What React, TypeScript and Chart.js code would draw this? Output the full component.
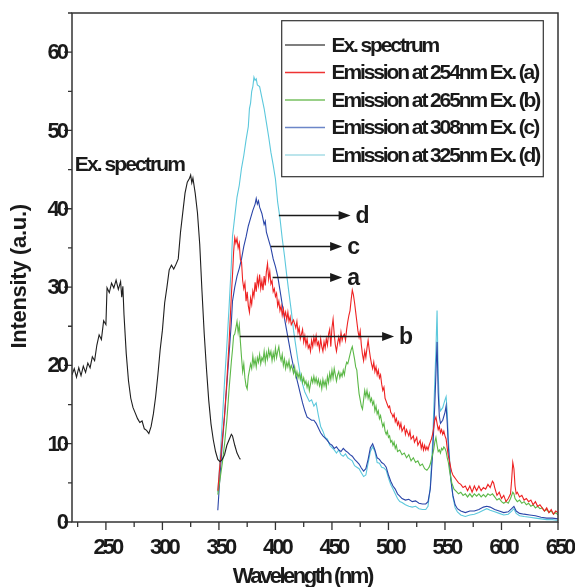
import React, { useEffect, useRef } from 'react';
import { Chart, registerables } from 'chart.js';

Chart.register(...registerables);

// ---------- axes ----------
const xMin = 220;
const xMax = 650;
const yMin = 0;
const yMax = 65;
const xMajorTicks = [250, 300, 350, 400, 450, 500, 550, 600, 650];
const xMinorTicks = [225, 275, 325, 375, 425, 475, 525, 575, 625];
const yMajorTicks = [0, 10, 20, 30, 40, 50, 60];
const yMinorTicks = [5, 15, 25, 35, 45, 55, 65];
const xTitle = 'Wavelength (nm)';
const yTitle = 'Intensity (a.u.)';

// ---------- series ----------
const seriesNames = [
  'Ex. spectrum',
  'Emission at 254nm Ex. (a)',
  'Emission at 265nm Ex. (b)',
  'Emission at 308nm Ex. (c)',
  'Emission at 325nm Ex. (d)',
];
const seriesColors = ['#1e1e1e', '#ee2222', '#5cb848', '#2a45a8', '#5cc8dc'];
const legendColors = ['#555555', '#ee3333', '#77c060', '#6c86c8', '#a6dde6'];

const exSpectrum: [number, number][] = [
  [220, 18.8], [222, 19.6], [224, 18.5], [226, 19.7], [228, 18.7], [230, 19.9], [232, 19.1], [234, 20.3],
  [236, 19.7], [238, 21.1], [240, 20.6], [242, 22.6], [244, 23.9], [246, 23.3], [248, 25.7], [250, 25.2],
  [251, 29.9], [253, 29.3], [255, 30.5], [257, 29.9], [259, 30.9], [261, 29.7], [263, 30.7], [264, 28.7],
  [265, 30.1], [266, 26.5], [268, 21.5], [270, 18.0], [272, 15.8], [274, 14.6], [276, 13.9], [278, 13.2],
  [280, 12.7], [282, 12.9], [284, 11.9], [286, 11.7], [288, 11.3], [290, 12.2], [292, 13.8], [294, 16.0],
  [296, 18.8], [298, 22.0], [300, 24.5], [302, 28.0], [304, 30.0], [306, 32.2], [308, 32.8], [310, 32.3],
  [312, 32.9], [314, 33.6], [316, 37.0], [318, 39.5], [320, 42.0], [322, 43.4], [324, 43.9], [325, 44.3],
  [326, 43.3], [327, 43.9], [329, 42.0], [331, 39.5], [333, 35.5], [335, 29.5], [337, 24.0], [339, 19.5],
  [341, 15.5], [343, 12.5], [345, 10.5], [347, 9.0], [349, 8.0], [351, 7.7], [353, 8.0], [355, 8.6],
  [357, 9.8], [359, 10.5], [361, 11.2], [362, 11.0], [364, 9.8], [366, 8.8], [368, 8.2], [369, 8.0],
];

const emission254: [number, number][] = [
  [349, 4.0], [351, 7.5], [353, 10.5], [355, 13.8], [357, 18.0], [359, 23.0], [361, 29.0], [362, 31.5],
  [363, 34.5], [364, 36.3], [365, 35.6], [366, 36.2], [367, 35.0], [368, 35.6], [369, 33.5], [370, 33.2],
  [371, 30.8], [372, 29.8], [373, 30.5], [374, 28.2], [375, 29.4], [376, 27.6], [377, 26.8], [378, 28.6],
  [379, 27.8], [380, 29.5], [381, 28.8], [382, 30.6], [383, 29.4], [384, 31.2], [385, 30.2], [386, 31.6],
  [387, 29.8], [388, 30.8], [389, 29.6], [390, 31.4], [391, 30.2], [392, 32.0], [393, 33.0], [394, 31.0],
  [395, 32.0], [396, 30.4], [397, 30.8], [398, 29.4], [399, 29.8], [400, 28.8], [401, 29.2], [402, 27.6],
  [403, 28.2], [404, 27.0], [405, 27.6], [406, 26.4], [407, 27.2], [408, 26.2], [409, 26.8], [410, 25.8],
  [411, 26.8], [412, 25.6], [413, 26.2], [414, 25.2], [416, 25.8], [418, 24.8], [419, 25.6], [420, 24.2],
  [421, 24.8], [422, 23.4], [424, 24.6], [425, 23.0], [426, 23.8], [427, 22.6], [428, 23.4], [429, 22.2],
  [430, 22.6], [431, 21.8], [432, 23.2], [433, 22.4], [434, 23.6], [435, 22.8], [436, 23.8], [437, 22.6],
  [438, 23.0], [439, 22.0], [440, 23.4], [441, 22.4], [442, 21.8], [443, 23.0], [444, 22.2], [445, 23.4],
  [446, 22.6], [447, 24.0], [448, 24.6], [449, 22.4], [450, 24.8], [451, 25.9], [452, 24.0], [453, 22.6],
  [454, 21.8], [455, 22.8], [456, 23.6], [457, 22.8], [458, 24.2], [459, 23.2], [460, 23.8], [461, 24.0],
  [462, 23.2], [463, 24.6], [464, 25.6], [465, 26.4], [466, 27.0], [467, 28.4], [468, 29.6], [469, 29.0],
  [470, 28.0], [471, 26.8], [472, 25.6], [473, 24.4], [474, 23.6], [475, 24.4], [476, 22.6], [477, 21.4],
  [478, 20.6], [479, 21.8], [480, 21.0], [481, 22.2], [482, 23.2], [483, 22.0], [484, 21.0], [485, 20.2],
  [486, 19.6], [487, 20.4], [488, 19.2], [489, 19.8], [490, 18.8], [491, 19.4], [492, 18.4], [493, 18.8],
  [494, 17.6], [495, 16.8], [496, 17.2], [497, 15.8], [498, 15.4], [499, 15.0], [500, 14.6], [501, 14.8],
  [502, 14.0], [503, 13.8], [504, 13.4], [505, 13.8], [506, 12.8], [507, 13.2], [508, 12.4], [509, 12.8],
  [510, 12.0], [511, 12.6], [512, 11.6], [514, 12.2], [515, 11.2], [516, 11.8], [518, 11.0], [519, 11.6],
  [520, 10.6], [522, 11.0], [523, 10.2], [525, 10.8], [526, 9.8], [528, 10.4], [529, 9.4], [530, 10.0],
  [531, 9.2], [532, 9.8], [533, 9.2], [534, 9.6], [535, 9.2], [536, 9.8], [537, 10.2], [538, 10.6],
  [539, 11.2], [540, 12.0], [541, 13.0], [542, 13.4], [543, 12.6], [544, 11.8], [545, 12.2], [546, 11.4],
  [547, 11.8], [548, 11.2], [549, 11.6], [550, 11.0], [551, 10.6], [552, 9.4], [553, 8.4], [554, 7.8],
  [555, 7.0], [556, 6.4], [557, 6.0], [558, 5.8], [560, 5.4], [562, 5.0], [564, 4.8], [566, 4.4],
  [568, 4.6], [570, 4.0], [572, 4.6], [574, 3.8], [576, 4.6], [578, 4.0], [580, 4.6], [582, 4.0],
  [584, 4.4], [586, 4.2], [588, 4.8], [590, 4.4], [592, 5.2], [593, 5.0], [594, 4.4], [596, 3.4],
  [598, 3.8], [600, 3.0], [602, 3.4], [604, 2.6], [606, 3.0], [608, 3.6], [609, 5.4], [610, 7.6],
  [611, 6.8], [612, 4.6], [613, 3.6], [614, 3.8], [616, 3.2], [618, 3.4], [620, 2.8], [622, 3.0],
  [624, 2.6], [626, 2.8], [628, 2.2], [630, 2.6], [632, 2.0], [634, 2.2], [636, 1.8], [638, 1.4],
  [640, 1.8], [642, 1.2], [644, 1.6], [646, 1.0], [648, 1.4], [650, 1.2],
];

const emission265: [number, number][] = [
  [349, 3.5], [351, 5.5], [353, 7.5], [355, 10.0], [357, 13.0], [359, 17.0], [361, 20.5], [362, 22.0],
  [363, 23.8], [364, 24.0], [365, 24.8], [366, 25.6], [367, 24.2], [368, 25.2], [369, 23.0], [370, 21.0],
  [371, 19.2], [372, 20.2], [373, 18.4], [374, 17.4], [375, 17.0], [376, 18.6], [377, 19.4], [378, 20.2],
  [379, 19.6], [380, 21.2], [381, 20.0], [382, 20.8], [383, 19.8], [384, 21.0], [385, 20.4], [386, 21.4],
  [387, 20.2], [388, 21.0], [389, 20.6], [390, 21.8], [391, 20.4], [392, 21.6], [393, 20.8], [394, 22.0],
  [395, 21.2], [396, 21.8], [397, 20.6], [398, 21.6], [399, 20.8], [400, 22.2], [401, 21.0], [402, 21.8],
  [403, 22.4], [404, 21.2], [405, 20.6], [406, 21.4], [407, 20.0], [408, 20.8], [409, 19.6], [410, 20.4],
  [411, 19.8], [412, 20.6], [413, 19.4], [414, 20.0], [415, 19.6], [416, 19.0], [417, 19.8], [418, 18.6],
  [419, 19.2], [420, 18.4], [421, 19.0], [422, 18.2], [423, 18.8], [424, 17.8], [425, 18.4], [426, 17.6],
  [427, 18.0], [428, 17.2], [429, 17.8], [430, 16.8], [431, 17.6], [432, 18.4], [433, 17.8], [434, 18.6],
  [435, 17.8], [436, 18.4], [437, 17.6], [438, 18.2], [439, 17.4], [440, 18.0], [441, 17.0], [442, 18.2],
  [443, 17.4], [444, 18.0], [445, 17.2], [446, 18.6], [447, 17.8], [448, 19.0], [449, 18.2], [450, 19.4],
  [451, 18.4], [452, 19.6], [453, 18.8], [454, 18.0], [455, 18.8], [456, 19.2], [457, 18.4], [458, 19.0],
  [459, 18.6], [460, 19.4], [461, 18.8], [462, 19.8], [463, 20.4], [464, 20.2], [465, 20.8], [466, 21.4],
  [467, 22.0], [468, 22.4], [469, 21.6], [470, 20.8], [471, 19.8], [472, 19.4], [473, 17.8], [474, 16.4],
  [475, 15.6], [476, 14.8], [477, 14.4], [478, 15.6], [479, 16.8], [480, 16.0], [481, 16.8], [482, 15.8],
  [483, 16.4], [484, 15.4], [485, 15.8], [486, 15.0], [487, 15.4], [488, 14.2], [489, 14.8], [490, 13.8],
  [491, 14.2], [492, 13.2], [493, 13.6], [494, 12.8], [495, 12.2], [496, 12.6], [497, 11.6], [498, 11.2],
  [499, 11.6], [500, 10.8], [501, 11.0], [502, 10.2], [503, 10.4], [504, 9.8], [505, 10.2], [506, 9.4],
  [507, 9.8], [508, 9.0], [510, 9.2], [512, 8.6], [514, 8.8], [516, 8.2], [518, 8.6], [520, 7.8],
  [522, 8.2], [524, 7.6], [526, 7.8], [528, 7.2], [530, 7.4], [532, 6.8], [534, 6.6], [535, 6.8],
  [536, 7.0], [537, 7.4], [538, 8.0], [539, 8.6], [540, 9.2], [541, 10.2], [542, 10.8], [543, 9.8],
  [544, 9.0], [545, 9.2], [546, 8.8], [547, 9.4], [548, 9.2], [549, 9.6], [550, 9.4], [551, 9.0],
  [552, 8.2], [553, 7.6], [554, 6.6], [555, 5.8], [556, 5.0], [557, 4.6], [558, 4.2], [560, 3.9],
  [562, 3.6], [564, 3.8], [566, 3.4], [568, 3.6], [570, 3.2], [572, 3.6], [574, 3.2], [576, 3.6],
  [578, 3.3], [580, 3.6], [582, 3.2], [584, 3.5], [586, 3.2], [588, 3.6], [590, 3.4], [592, 3.6],
  [594, 3.2], [596, 2.8], [598, 3.0], [600, 2.6], [602, 2.4], [604, 2.6], [606, 2.4], [608, 3.0],
  [610, 3.8], [611, 3.6], [612, 3.0], [614, 2.6], [616, 2.8], [618, 2.4], [620, 2.6], [622, 2.2],
  [624, 2.4], [626, 2.0], [628, 2.2], [630, 1.8], [632, 2.0], [634, 1.7], [636, 1.8], [638, 1.4],
  [640, 1.6], [642, 1.2], [644, 1.4], [646, 1.0], [648, 1.2], [650, 0.9],
];

const emission308: [number, number][] = [
  [349, 1.5], [351, 6.0], [353, 10.0], [355, 13.5], [357, 17.5], [359, 21.5], [361, 25.5], [362, 28.2],
  [364, 30.0], [366, 31.4], [368, 32.4], [370, 33.6], [372, 35.2], [374, 36.4], [376, 37.8], [378, 38.8],
  [380, 39.8], [382, 40.6], [383, 41.3], [384, 40.6], [385, 41.0], [386, 40.2], [388, 39.4], [390, 38.0],
  [391, 38.4], [392, 37.0], [394, 36.0], [396, 35.0], [398, 33.6], [400, 32.6], [402, 31.4], [404, 29.6],
  [406, 27.8], [408, 26.0], [410, 24.4], [412, 22.8], [414, 21.2], [416, 19.8], [418, 18.8], [420, 17.6],
  [422, 16.4], [424, 15.2], [426, 14.2], [428, 13.4], [430, 13.2], [432, 13.0], [434, 13.0], [436, 12.6],
  [438, 12.0], [440, 11.4], [442, 11.0], [444, 10.7], [446, 10.4], [448, 10.0], [450, 9.8], [452, 9.4],
  [454, 9.6], [456, 9.2], [458, 9.0], [460, 9.4], [462, 9.1], [464, 8.9], [466, 8.6], [468, 8.4],
  [470, 8.0], [472, 7.7], [474, 7.4], [476, 6.9], [478, 6.5], [480, 6.8], [482, 8.0], [484, 9.5],
  [486, 10.0], [488, 9.2], [490, 8.2], [492, 8.0], [494, 7.6], [496, 7.4], [498, 7.0], [500, 6.0],
  [502, 5.2], [504, 4.6], [506, 4.2], [508, 3.6], [510, 3.3], [512, 3.0], [515, 2.8], [518, 2.9],
  [521, 2.6], [524, 2.7], [527, 2.4], [530, 2.3], [533, 2.3], [535, 2.6], [537, 4.2], [539, 8.5],
  [541, 15.0], [542, 19.0], [543, 23.0], [544, 16.5], [545, 13.5], [546, 12.6], [548, 13.0], [550, 14.0],
  [551, 14.8], [552, 12.6], [553, 9.6], [555, 5.6], [557, 3.4], [559, 2.2], [561, 1.7], [564, 1.4],
  [568, 1.2], [572, 1.4], [576, 1.4], [580, 1.6], [584, 1.9], [587, 2.0], [590, 1.9], [594, 1.6],
  [598, 1.4], [602, 1.2], [606, 1.3], [609, 1.7], [611, 2.0], [613, 1.4], [616, 1.1], [620, 1.0],
  [625, 0.9], [630, 0.8], [635, 0.6], [640, 0.5], [645, 0.5], [650, 0.4],
];

const emission325: [number, number][] = [
  [349, 3.8], [351, 8.0], [353, 13.0], [355, 18.0], [357, 22.5], [359, 27.5], [361, 33.0], [362, 36.5],
  [364, 39.0], [366, 41.5], [368, 43.0], [370, 45.2], [372, 46.8], [374, 48.8], [376, 50.5], [377, 52.8],
  [378, 53.5], [379, 55.0], [380, 55.6], [381, 56.8], [382, 56.4], [383, 56.6], [384, 55.8], [386, 55.6],
  [388, 54.2], [390, 52.8], [392, 51.0], [394, 49.2], [396, 47.2], [398, 45.6], [400, 43.8], [402, 40.8],
  [404, 38.8], [406, 36.2], [408, 34.0], [410, 31.5], [412, 29.2], [414, 27.0], [416, 24.5], [418, 22.5],
  [420, 20.5], [422, 18.8], [424, 17.6], [426, 16.6], [428, 16.0], [430, 15.4], [432, 15.6], [434, 14.8],
  [436, 15.2], [438, 13.6], [440, 12.2], [442, 11.6], [444, 10.8], [446, 10.6], [448, 9.8], [450, 9.5],
  [452, 9.2], [454, 8.8], [456, 9.2], [458, 8.6], [460, 8.4], [462, 8.7], [464, 8.2], [466, 8.0],
  [468, 7.8], [470, 7.2], [472, 7.0], [474, 6.8], [476, 6.3], [478, 5.8], [480, 6.0], [482, 7.5],
  [484, 9.0], [486, 9.6], [488, 9.0], [490, 7.6], [492, 7.5], [494, 7.0], [496, 6.9], [498, 6.6],
  [500, 5.6], [502, 4.8], [504, 4.2], [506, 3.6], [508, 3.0], [510, 2.6], [512, 2.5], [515, 2.2],
  [518, 2.0], [521, 1.9], [524, 2.0], [527, 1.7], [530, 1.6], [533, 1.6], [535, 2.0], [537, 4.5],
  [539, 10.0], [541, 18.0], [542, 22.0], [543, 27.0], [544, 19.0], [545, 15.0], [546, 14.2], [548, 14.6],
  [550, 15.6], [551, 16.0], [552, 14.0], [553, 10.5], [555, 6.0], [557, 3.2], [559, 1.8], [561, 1.3],
  [564, 0.9], [568, 0.7], [572, 0.9], [576, 1.0], [580, 1.2], [584, 1.5], [587, 1.7], [590, 1.5],
  [594, 1.3], [598, 1.1], [602, 0.9], [606, 1.0], [609, 1.4], [611, 1.7], [613, 1.1], [616, 0.8],
  [620, 0.7], [625, 0.6], [630, 0.5], [635, 0.4], [640, 0.3], [645, 0.3], [650, 0.2],
];

const allSeries = [exSpectrum, emission254, emission265, emission308, emission325];

// ---------- annotations (data coordinates) ----------
const arrowLabels = ['d', 'c', 'a', 'b'];
const arrowStartNm = [403, 396, 397.5, 368.5];
const arrowEndNm = [466.5, 459, 459, 505];
const arrowLevel = [39.2, 35.3, 31.3, 23.8];
const exLabelText = 'Ex. spectrum';
const exLabelPos: [number, number] = [222.5, 45.6];

const FONT = "'Liberation Sans', Arial, Helvetica, sans-serif";

function drawText(
  ctx: CanvasRenderingContext2D,
  s: string,
  x: number,
  y: number,
  size: number,
  ls: number,
  align: CanvasTextAlign,
  baseline: CanvasTextBaseline,
) {
  ctx.font = `bold ${size}px ${FONT}`;
  (ctx as any).letterSpacing = `${ls}px`;
  ctx.textAlign = align;
  ctx.textBaseline = baseline;
  ctx.fillStyle = '#1a1a1a';
  let dx = 0;
  if (align === 'center') dx = -ls / 2;
  if (align === 'right') dx = -ls;
  ctx.fillText(s, x + dx, y);
  (ctx as any).letterSpacing = '0px';
}

const decorPlugin = {
  id: 'decor',
  afterDraw(chart: any) {
    const ctx: CanvasRenderingContext2D = chart.ctx;
    const { left, right, top, bottom } = chart.chartArea;
    const xs = chart.scales.x;
    const ys = chart.scales.y;
    ctx.save();

    // frame
    ctx.strokeStyle = '#333333';
    ctx.lineWidth = 1.5;
    ctx.strokeRect(left, top, right - left, bottom - top);

    // ticks
    ctx.lineWidth = 1.3;
    ctx.beginPath();
    xMajorTicks.forEach((v) => {
      const px = xs.getPixelForValue(v);
      ctx.moveTo(px, bottom);
      ctx.lineTo(px, bottom + 8);
    });
    xMinorTicks.forEach((v) => {
      const px = xs.getPixelForValue(v);
      ctx.moveTo(px, bottom);
      ctx.lineTo(px, bottom + 5);
    });
    yMajorTicks.forEach((v) => {
      const py = ys.getPixelForValue(v);
      ctx.moveTo(left, py);
      ctx.lineTo(left - 8, py);
    });
    yMinorTicks.forEach((v) => {
      const py = ys.getPixelForValue(v);
      ctx.moveTo(left, py);
      ctx.lineTo(left - 4, py);
    });
    ctx.stroke();

    // tick labels
    xMajorTicks.forEach((v) => {
      drawText(ctx, String(v), xs.getPixelForValue(v), bottom + 26, 22, -3, 'center', 'middle');
    });
    yMajorTicks.forEach((v) => {
      drawText(ctx, String(v), left - 9, ys.getPixelForValue(v) + 1, 22, -3, 'right', 'middle');
    });

    // axis titles
    drawText(ctx, xTitle, (left + right) / 2 - 14, bottom + 55, 22, -2.5, 'center', 'middle');
    ctx.save();
    ctx.translate(20, (top + bottom) / 2 + 9);
    ctx.rotate(-Math.PI / 2);
    drawText(ctx, yTitle, 0, 0, 22, -0.3, 'center', 'middle');
    ctx.restore();

    // legend
    const lx0 = 281.7, ly0 = 20.7, lx1 = 543.3, ly1 = 176.7;
    ctx.strokeStyle = '#333333';
    ctx.lineWidth = 1.2;
    ctx.strokeRect(lx0, ly0, lx1 - lx0, ly1 - ly0);
    seriesNames.forEach((name, i) => {
      const cy = 45 + i * 27.5;
      ctx.strokeStyle = legendColors[i];
      ctx.lineWidth = 1.6;
      ctx.beginPath();
      ctx.moveTo(285, cy);
      ctx.lineTo(325, cy);
      ctx.stroke();
      drawText(ctx, name, 331.5, cy + 1, 21, -2.1, 'left', 'middle');
    });

    // "Ex. spectrum" label
    drawText(ctx, exLabelText, xs.getPixelForValue(exLabelPos[0]), ys.getPixelForValue(exLabelPos[1]), 21, -1.9, 'left', 'middle');

    // arrows
    ctx.strokeStyle = '#1a1a1a';
    ctx.fillStyle = '#1a1a1a';
    arrowLabels.forEach((lab, i) => {
      const x0 = xs.getPixelForValue(arrowStartNm[i]);
      const x1 = xs.getPixelForValue(arrowEndNm[i]);
      const y = Math.round(ys.getPixelForValue(arrowLevel[i])) + 0.5;
      ctx.lineWidth = 1.4;
      ctx.beginPath();
      ctx.moveTo(x0, y);
      ctx.lineTo(x1 - 8, y);
      ctx.stroke();
      ctx.beginPath();
      ctx.moveTo(x1, y);
      ctx.lineTo(x1 - 12, y - 4.5);
      ctx.lineTo(x1 - 12, y + 4.5);
      ctx.closePath();
      ctx.fill();
      drawText(ctx, lab, x1 + 5, y + 1, 23, 0, 'left', 'middle');
    });

    ctx.restore();
  },
};

export default function App() {
  const ref = useRef<HTMLCanvasElement | null>(null);

  useEffect(() => {
    if (!ref.current) return;
    const chart = new Chart(ref.current, {
      type: 'line',
      data: {
        datasets: allSeries.map((s, i) => ({
          label: seriesNames[i],
          data: s.map(([x, y]) => ({ x, y })),
          borderColor: seriesColors[i],
          backgroundColor: seriesColors[i],
          borderWidth: 1.1,
          pointRadius: 0,
          tension: 0,
          fill: false,
        })),
      },
      options: {
        responsive: false,
        animation: false,
        devicePixelRatio: 1,
        parsing: true,
        layout: { padding: { left: 72, right: 17, top: 13, bottom: 65 } },
        plugins: { legend: { display: false }, tooltip: { enabled: false } },
        scales: {
          x: { type: 'linear', min: xMin, max: xMax, display: false },
          y: { type: 'linear', min: yMin, max: yMax, display: false },
        },
      },
      plugins: [decorPlugin],
    });
    return () => chart.destroy();
  }, []);

  return (
    <div style={{ position: 'fixed', left: 0, top: 0, width: 575, height: 587, background: '#ffffff' }}>
      <canvas ref={ref} width={575} height={587} style={{ width: 575, height: 587, display: 'block' }} />
    </div>
  );
}
